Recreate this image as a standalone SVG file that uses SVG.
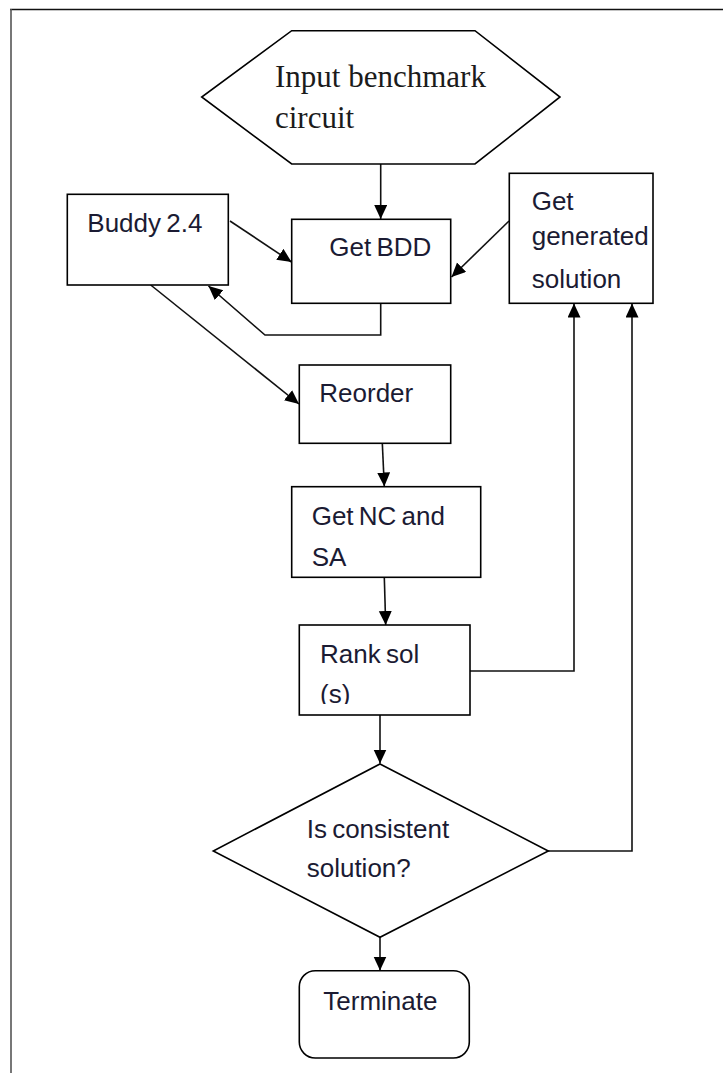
<svg xmlns="http://www.w3.org/2000/svg" width="723" height="1073" viewBox="0 0 723 1073">
<style>
.box{fill:#fff;stroke:#000;stroke-width:1.6}
.lbl{font-family:"Liberation Sans",Arial,sans-serif;font-size:26px;word-spacing:-2px;fill:#1b1b33}
.ser{font-family:"Liberation Serif","Times New Roman",serif;font-size:31px;fill:#1b1b1b}
.con{fill:none;stroke:#111;stroke-width:1.6}
</style>
<defs>
<marker id="ah" markerUnits="userSpaceOnUse" markerWidth="16" markerHeight="14" refX="14" refY="6.5" orient="auto">
<path d="M0,0 L14,6.5 L0,13 Z" fill="#000"/>
</marker>
<clipPath id="rankclip"><rect x="300" y="626" width="169" height="78"/></clipPath>
</defs>
<rect width="723" height="1073" fill="#fff"/>
<g id="frame">
<line x1="10" y1="9.5" x2="723" y2="9.5" stroke="#111" stroke-width="1.5"/>
<line x1="11" y1="9" x2="11" y2="1073" stroke="#555" stroke-width="1.6"/>
</g>
<g id="connectors">
<path class="con" d="M380.7,164 L380.7,219" marker-end="url(#ah)"/>
<path class="con" d="M230,221 L291.5,262" marker-end="url(#ah)"/>
<path class="con" d="M509,221 L451.5,277" marker-end="url(#ah)"/>
<path class="con" d="M380.7,303 L380.7,335 L265,335 L208.5,286" marker-end="url(#ah)"/>
<path class="con" d="M150.7,285 L299,404" marker-end="url(#ah)"/>
<path class="con" d="M382.3,443 L384.3,486.5" marker-end="url(#ah)"/>
<path class="con" d="M384.3,577 L385.7,625" marker-end="url(#ah)"/>
<path class="con" d="M380,715 L380,763.5" marker-end="url(#ah)"/>
<path class="con" d="M380,937 L380,970.5" marker-end="url(#ah)"/>
<path class="con" d="M470,671 L574,671 L574,303.5" marker-end="url(#ah)"/>
<path class="con" d="M548,851 L632,851 L632,303.5" marker-end="url(#ah)"/>
</g>
<g id="input">
<polygon class="box" points="291.7,30.7 475,30.7 560,97 475,164 291.7,164 201.7,97"/>
<text class="ser" x="275" y="87">Input benchmark</text>
<text class="ser" x="275" y="128">circuit</text>
</g>
<g id="buddy">
<rect class="box" x="67.3" y="194.3" width="161" height="90.7"/>
<text class="lbl" x="87.3" y="231.7">Buddy 2.4</text>
</g>
<g id="getbdd">
<rect class="box" x="291.7" y="219.3" width="159" height="84"/>
<text class="lbl" x="329.3" y="255.7">Get BDD</text>
</g>
<g id="getgen">
<rect class="box" x="509.3" y="173.3" width="143.7" height="130"/>
<text class="lbl" x="531.7" y="210">Get</text>
<text class="lbl" x="531.7" y="245">generated</text>
<text class="lbl" x="531.7" y="288">solution</text>
</g>
<g id="reorder">
<rect class="box" x="299.3" y="365" width="151.4" height="78.3"/>
<text class="lbl" x="319.3" y="401.7">Reorder</text>
</g>
<g id="getnc">
<rect class="box" x="291.7" y="486.7" width="189" height="90.6"/>
<text class="lbl" x="311.7" y="525">Get NC and</text>
<text class="lbl" x="311.7" y="565.7">SA</text>
</g>
<g id="rank">
<rect class="box" x="299.3" y="625" width="170.7" height="90"/>
<text class="lbl" x="320" y="663.3">Rank sol</text>
<text class="lbl" x="320" y="703" clip-path="url(#rankclip)">(s)</text>
</g>
<g id="decision">
<polygon class="box" points="380,764 548.3,851 380,937.3 213.3,851"/>
<text class="lbl" x="306.7" y="837.7">Is consistent</text>
<text class="lbl" x="306.7" y="876.7">solution?</text>
</g>
<g id="terminate">
<rect class="box" x="299.3" y="970.7" width="170" height="87.3" rx="16"/>
<text class="lbl" x="323.3" y="1010">Terminate</text>
</g>
</svg>
